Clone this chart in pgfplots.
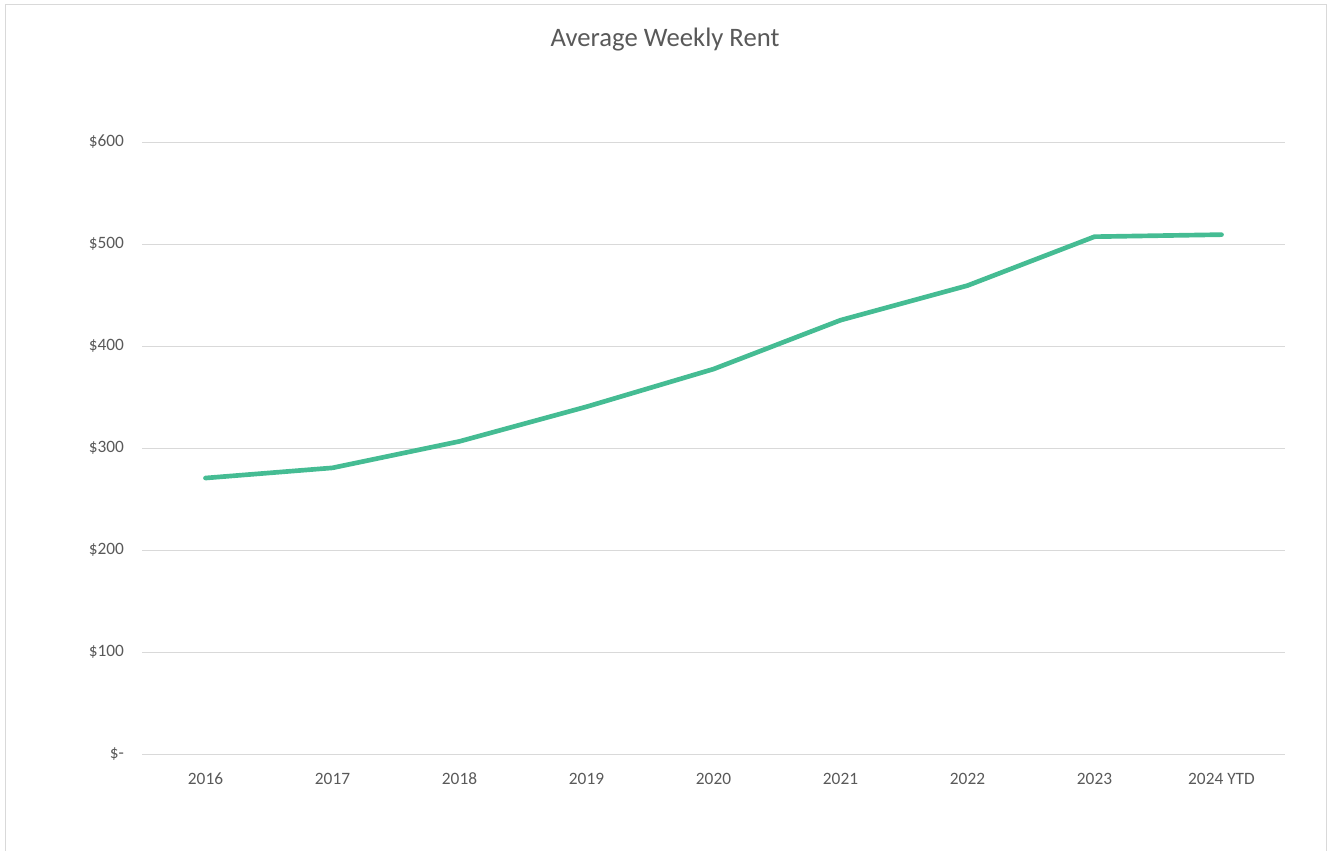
\documentclass[border=0pt]{standalone}
\usepackage{pgfplots}
\pgfplotsset{compat=1.18}
\usepackage{fontspec}
\setmainfont{Carlito}
\definecolor{txtc}{HTML}{595959}
\definecolor{gridc}{HTML}{D9D9D9}
\definecolor{linec}{HTML}{45BC93}
\definecolor{framec}{HTML}{D9D9D9}
\begin{document}
\begin{tikzpicture}
\path[use as bounding box] (0,0) rectangle (999.75pt,637.5pt);
\draw[framec, line width=0.75pt] (3.75pt,-5pt) -- (3.75pt,633.75pt) -- (994.5pt,633.75pt) -- (994.5pt,-5pt);
\node[text=txtc, font=\fontsize{20pt}{24pt}\selectfont] at (498.75pt,608pt) {Average Weekly Rent};
\begin{axis}[
  at={(106.5pt,72pt)}, anchor=south west,
  scale only axis, width=857.25pt, height=458.25pt,
  xmin=-0.5, xmax=8.5, ymin=0, ymax=600,
  axis line style={draw=none},
  major tick style={draw=none},
  xtick={0,...,8},
  xticklabels={2016,2017,2018,2019,2020,2021,2022,2023,2024 YTD},
  ytick={0,100,200,300,400,500,600},
  yticklabels={\$-,\$100,\$200,\$300,\$400,\$500,\$600},
  xmajorgrids=false, ymajorgrids=true,
  major grid style={draw=gridc, line width=0.75pt},
  typeset ticklabels with strut,
  tick label style={text=txtc, font=\fontsize{13pt}{15pt}\selectfont},
  yticklabel style={xshift=-10pt},
  xticklabel style={yshift=-9pt},
  clip=false,
]
\addplot[linec, line width=3.5pt, line join=round, line cap=round] coordinates {
(0,271) (1,281) (2,307) (3,341) (4,378) (5,426) (6,460) (7,508) (8,510)
};
\end{axis}
\end{tikzpicture}
\end{document}
